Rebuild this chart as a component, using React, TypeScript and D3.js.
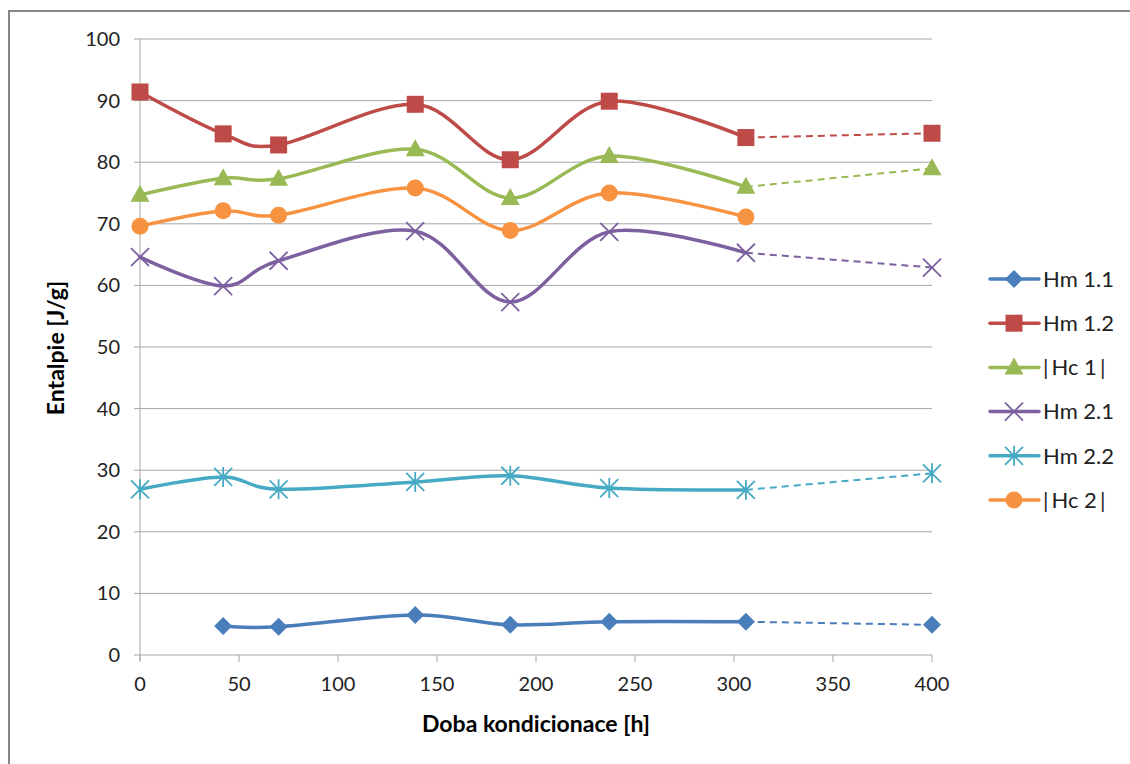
import React from "react";
import * as d3 from "d3";

// Conditioning time [h] for every measurement
const hours = [0, 42, 70, 139, 187, 237, 306, 400];

// Enthalpy values [J/g]; null = not measured
const hm11 = [null, 4.7, 4.6, 6.5, 4.9, 5.4, 5.4, 4.9];
const hm12 = [91.4, 84.6, 82.8, 89.4, 80.4, 89.9, 84.0, 84.7];
const hc1 = [74.7, 77.4, 77.3, 82.1, 74.2, 81.0, 76.0, 79.0];
const hm21 = [64.6, 59.9, 64.0, 68.8, 57.3, 68.7, 65.3, 62.9];
const hm22 = [26.9, 28.9, 26.9, 28.1, 29.1, 27.1, 26.8, 29.5];
const hc2 = [69.6, 72.1, 71.4, 75.8, 68.9, 75.0, 71.1, null];

const seriesNames = ["Hm 1.1", "Hm 1.2", "|Hc 1|", "Hm 2.1", "Hm 2.2", "|Hc 2|"];
const seriesValues = [hm11, hm12, hc1, hm21, hm22, hc2];
const seriesColors = ["#4A7EBB", "#BE4B48", "#98B954", "#7D60A0", "#46AAC5", "#F69240"];
const seriesMarkers = ["diamond", "square", "triangle", "x", "star", "circle"];

const xTicks = [0, 50, 100, 150, 200, 250, 300, 350, 400];
const yTicks = [0, 10, 20, 30, 40, 50, 60, 70, 80, 90, 100];

// Index of the last point drawn with a solid smoothed line
const solidEnd = 6;

const W = 1130;
const H = 764;
const plot = { left: 140, right: 932, top: 39, bottom: 655 };
const font = "Lato, Calibri, 'Open Sans', sans-serif";

const x = d3.scaleLinear().domain([0, 400]).range([plot.left, plot.right]);
const y = d3.scaleLinear().domain([0, 100]).range([plot.bottom, plot.top]);

function Marker({ kind, cx, cy, color }: { kind: string; cx: number; cy: number; color: string }) {
  switch (kind) {
    case "diamond":
      return (
        <path d={`M${cx},${cy - 9}L${cx + 9},${cy}L${cx},${cy + 9}L${cx - 9},${cy}Z`} fill={color} />
      );
    case "square":
      return <rect x={cx - 8.5} y={cy - 8.5} width={17} height={17} fill={color} />;
    case "triangle":
      return (
        <path d={`M${cx},${cy - 10}L${cx + 9.5},${cy + 7}L${cx - 9.5},${cy + 7}Z`} fill={color} />
      );
    case "x":
      return (
        <path
          d={`M${cx - 9},${cy - 9}L${cx + 9},${cy + 9}M${cx - 9},${cy + 9}L${cx + 9},${cy - 9}`}
          stroke={color}
          strokeWidth={1.8}
          fill="none"
        />
      );
    case "star":
      return (
        <path
          d={`M${cx - 9},${cy - 9}L${cx + 9},${cy + 9}M${cx - 9},${cy + 9}L${cx + 9},${cy - 9}M${cx},${cy - 10}L${cx},${cy + 10}`}
          stroke={color}
          strokeWidth={1.8}
          fill="none"
        />
      );
    default:
      return <circle cx={cx} cy={cy} r={8.5} fill={color} />;
  }
}

// Legend label: vertical bars get a little breathing room, as in Calibri
function LegendLabel({ name, lx, ly }: { name: string; lx: number; ly: number }) {
  const parts = name.split(/(\|)/).filter((p) => p !== "");
  return (
    <text x={lx} y={ly} dy="0.35em" fontSize={22} fill="#222">
      {parts.map((p, i) => (
        <tspan key={i} dx={p === "|" && i > 0 ? 3 : i > 0 && parts[i - 1] === "|" ? 3 : 0}>
          {p}
        </tspan>
      ))}
    </text>
  );
}

export default function App() {
  const smooth = d3
    .line<[number, number]>()
    .x((d) => x(d[0]))
    .y((d) => y(d[1]))
    .curve(d3.curveCardinal.tension(0));
  const straight = d3
    .line<[number, number]>()
    .x((d) => x(d[0]))
    .y((d) => y(d[1]));

  return (
    <svg
      width={W}
      height={H}
      style={{ position: "absolute", left: 0, top: 0, background: "#fff" }}
      fontFamily={font}
    >
      {/* chart frame */}
      <path d={`M9,${H}V11H${W}`} fill="none" stroke="#868686" strokeWidth={2} />

      {/* gridlines */}
      {yTicks.map((t) => (
        <line key={t} x1={plot.left} x2={plot.right} y1={y(t)} y2={y(t)} stroke="#A6A6A6" strokeWidth={1} />
      ))}
      {/* axes */}
      <line x1={plot.left} x2={plot.left} y1={plot.top} y2={plot.bottom + 6} stroke="#A6A6A6" />
      {yTicks.map((t) => (
        <line key={"yt" + t} x1={plot.left - 6} x2={plot.left} y1={y(t)} y2={y(t)} stroke="#A6A6A6" />
      ))}
      {xTicks.map((t) => (
        <line key={"xt" + t} x1={x(t)} x2={x(t)} y1={plot.bottom} y2={plot.bottom + 7} stroke="#A6A6A6" />
      ))}
      {yTicks.map((t) => (
        <text key={"yl" + t} x={plot.left - 20} y={y(t)} dy="0.35em" textAnchor="end" fontSize={20} fill="#222">
          {t}
        </text>
      ))}
      {xTicks.map((t) => (
        <text key={"xl" + t} x={x(t)} y={plot.bottom + 36} textAnchor="middle" fontSize={20} fill="#222">
          {t}
        </text>
      ))}
      <text x={(plot.left + plot.right) / 2} y={732} textAnchor="middle" fontSize={23} fontWeight="bold" fill="#000">
        Doba kondicionace [h]
      </text>
      <text
        transform={`translate(64,348) rotate(-90)`}
        textAnchor="middle"
        fontSize={23}
        fontWeight="bold"
        fill="#000"
      >
        Entalpie [J/g]
      </text>

      {/* series */}
      {seriesValues.map((vals, si) => {
        const color = seriesColors[si];
        const pts: [number, number][] = [];
        vals.forEach((v, i) => {
          if (v !== null && i <= solidEnd) pts.push([hours[i], v as number]);
        });
        const last = vals[vals.length - 1];
        const tail: [number, number][] | null =
          last !== null && vals[solidEnd] !== null
            ? [
                [hours[solidEnd], vals[solidEnd] as number],
                [hours[hours.length - 1], last as number],
              ]
            : null;
        return (
          <g key={si}>
            <path d={smooth(pts) || ""} fill="none" stroke={color} strokeWidth={3.5} strokeLinecap="round" />
            {tail && (
              <path d={straight(tail) || ""} fill="none" stroke={color} strokeWidth={2} strokeDasharray="7,5" />
            )}
            {vals.map((v, i) =>
              v === null ? null : (
                <Marker key={i} kind={seriesMarkers[si]} cx={x(hours[i])} cy={y(v as number)} color={color} />
              )
            )}
          </g>
        );
      })}

      {/* legend */}
      {seriesNames.map((name, i) => {
        const ly = 279 + i * 44.2;
        return (
          <g key={name}>
            <line x1={990} x2={1039} y1={ly} y2={ly} stroke={seriesColors[i]} strokeWidth={3.5} strokeLinecap="round" />
            <Marker kind={seriesMarkers[i]} cx={1014} cy={ly} color={seriesColors[i]} />
            <LegendLabel name={name} lx={1043} ly={ly} />
          </g>
        );
      })}
    </svg>
  );
}
